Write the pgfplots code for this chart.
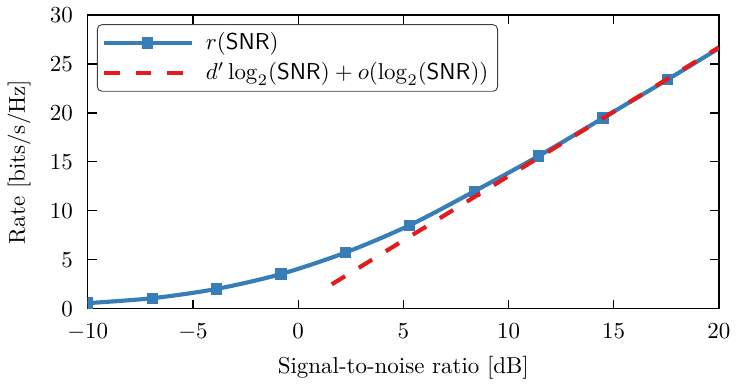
\documentclass[border=0pt]{standalone}
\usepackage{pgfplots}
\pgfplotsset{compat=1.18}
\definecolor{cblue}{HTML}{377EB8}
\definecolor{cred}{HTML}{E41A1C}
\begin{document}
\begin{tikzpicture}
\begin{axis}[
  width=275pt, height=128pt, scale only axis,
  xmin=-10, xmax=20, ymin=0, ymax=30,
  xtick={-10,-5,...,20}, ytick={0,5,...,30},
  tick align=inside, major tick length=4pt,
  tick style={black, line width=0.5pt},
  axis line style={line width=0.6pt},
  yticklabel style={xshift=-3pt},
  xticklabel style={yshift=-3pt},
  xlabel={Signal-to-noise ratio [dB]},
  ylabel={Rate [bits/s/Hz]},
  xlabel style={yshift=0pt},
  ylabel style={yshift=1.5pt},
  clip marker paths=true,
  legend cell align=left,
  legend style={at={(0,1)}, anchor=north west, xshift=4pt, yshift=-4pt,
    draw=black!75, rounded corners=2pt, fill=white, font=\normalsize,
    inner xsep=2pt, inner ysep=1.5pt, row sep=0pt},
  legend image code/.code={\draw[#1, mark indices={2}]
    plot coordinates {(0pt,0pt) (19pt,0pt) (38.5pt,0pt)};
    \path (41.5pt,0pt);},
]
\addplot[cblue, line width=1.8pt, smooth, mark=square*, mark size=2.2pt,
  mark options={solid, fill=cblue, draw=cblue, line width=0.5pt},
  mark indices={1,...,10}] coordinates {
  (-10,0.58) (-6.939,1.08) (-3.878,2.03) (-0.816,3.55) (2.245,5.74)
  (5.306,8.54) (8.367,11.99) (11.429,15.6) (14.490,19.48) (17.551,23.4)
  (20,26.6)
};
\addlegendentry{$r(\mathsf{SNR})$}
\addplot[cred, line width=1.8pt, dash pattern=on 6.8pt off 7pt] coordinates {
  (1.6,2.5) (20,26.7)
};
\addlegendentry{$d'\log_2(\mathsf{SNR})+o(\log_2(\mathsf{SNR}))$}
\end{axis}
\end{tikzpicture}
\end{document}
